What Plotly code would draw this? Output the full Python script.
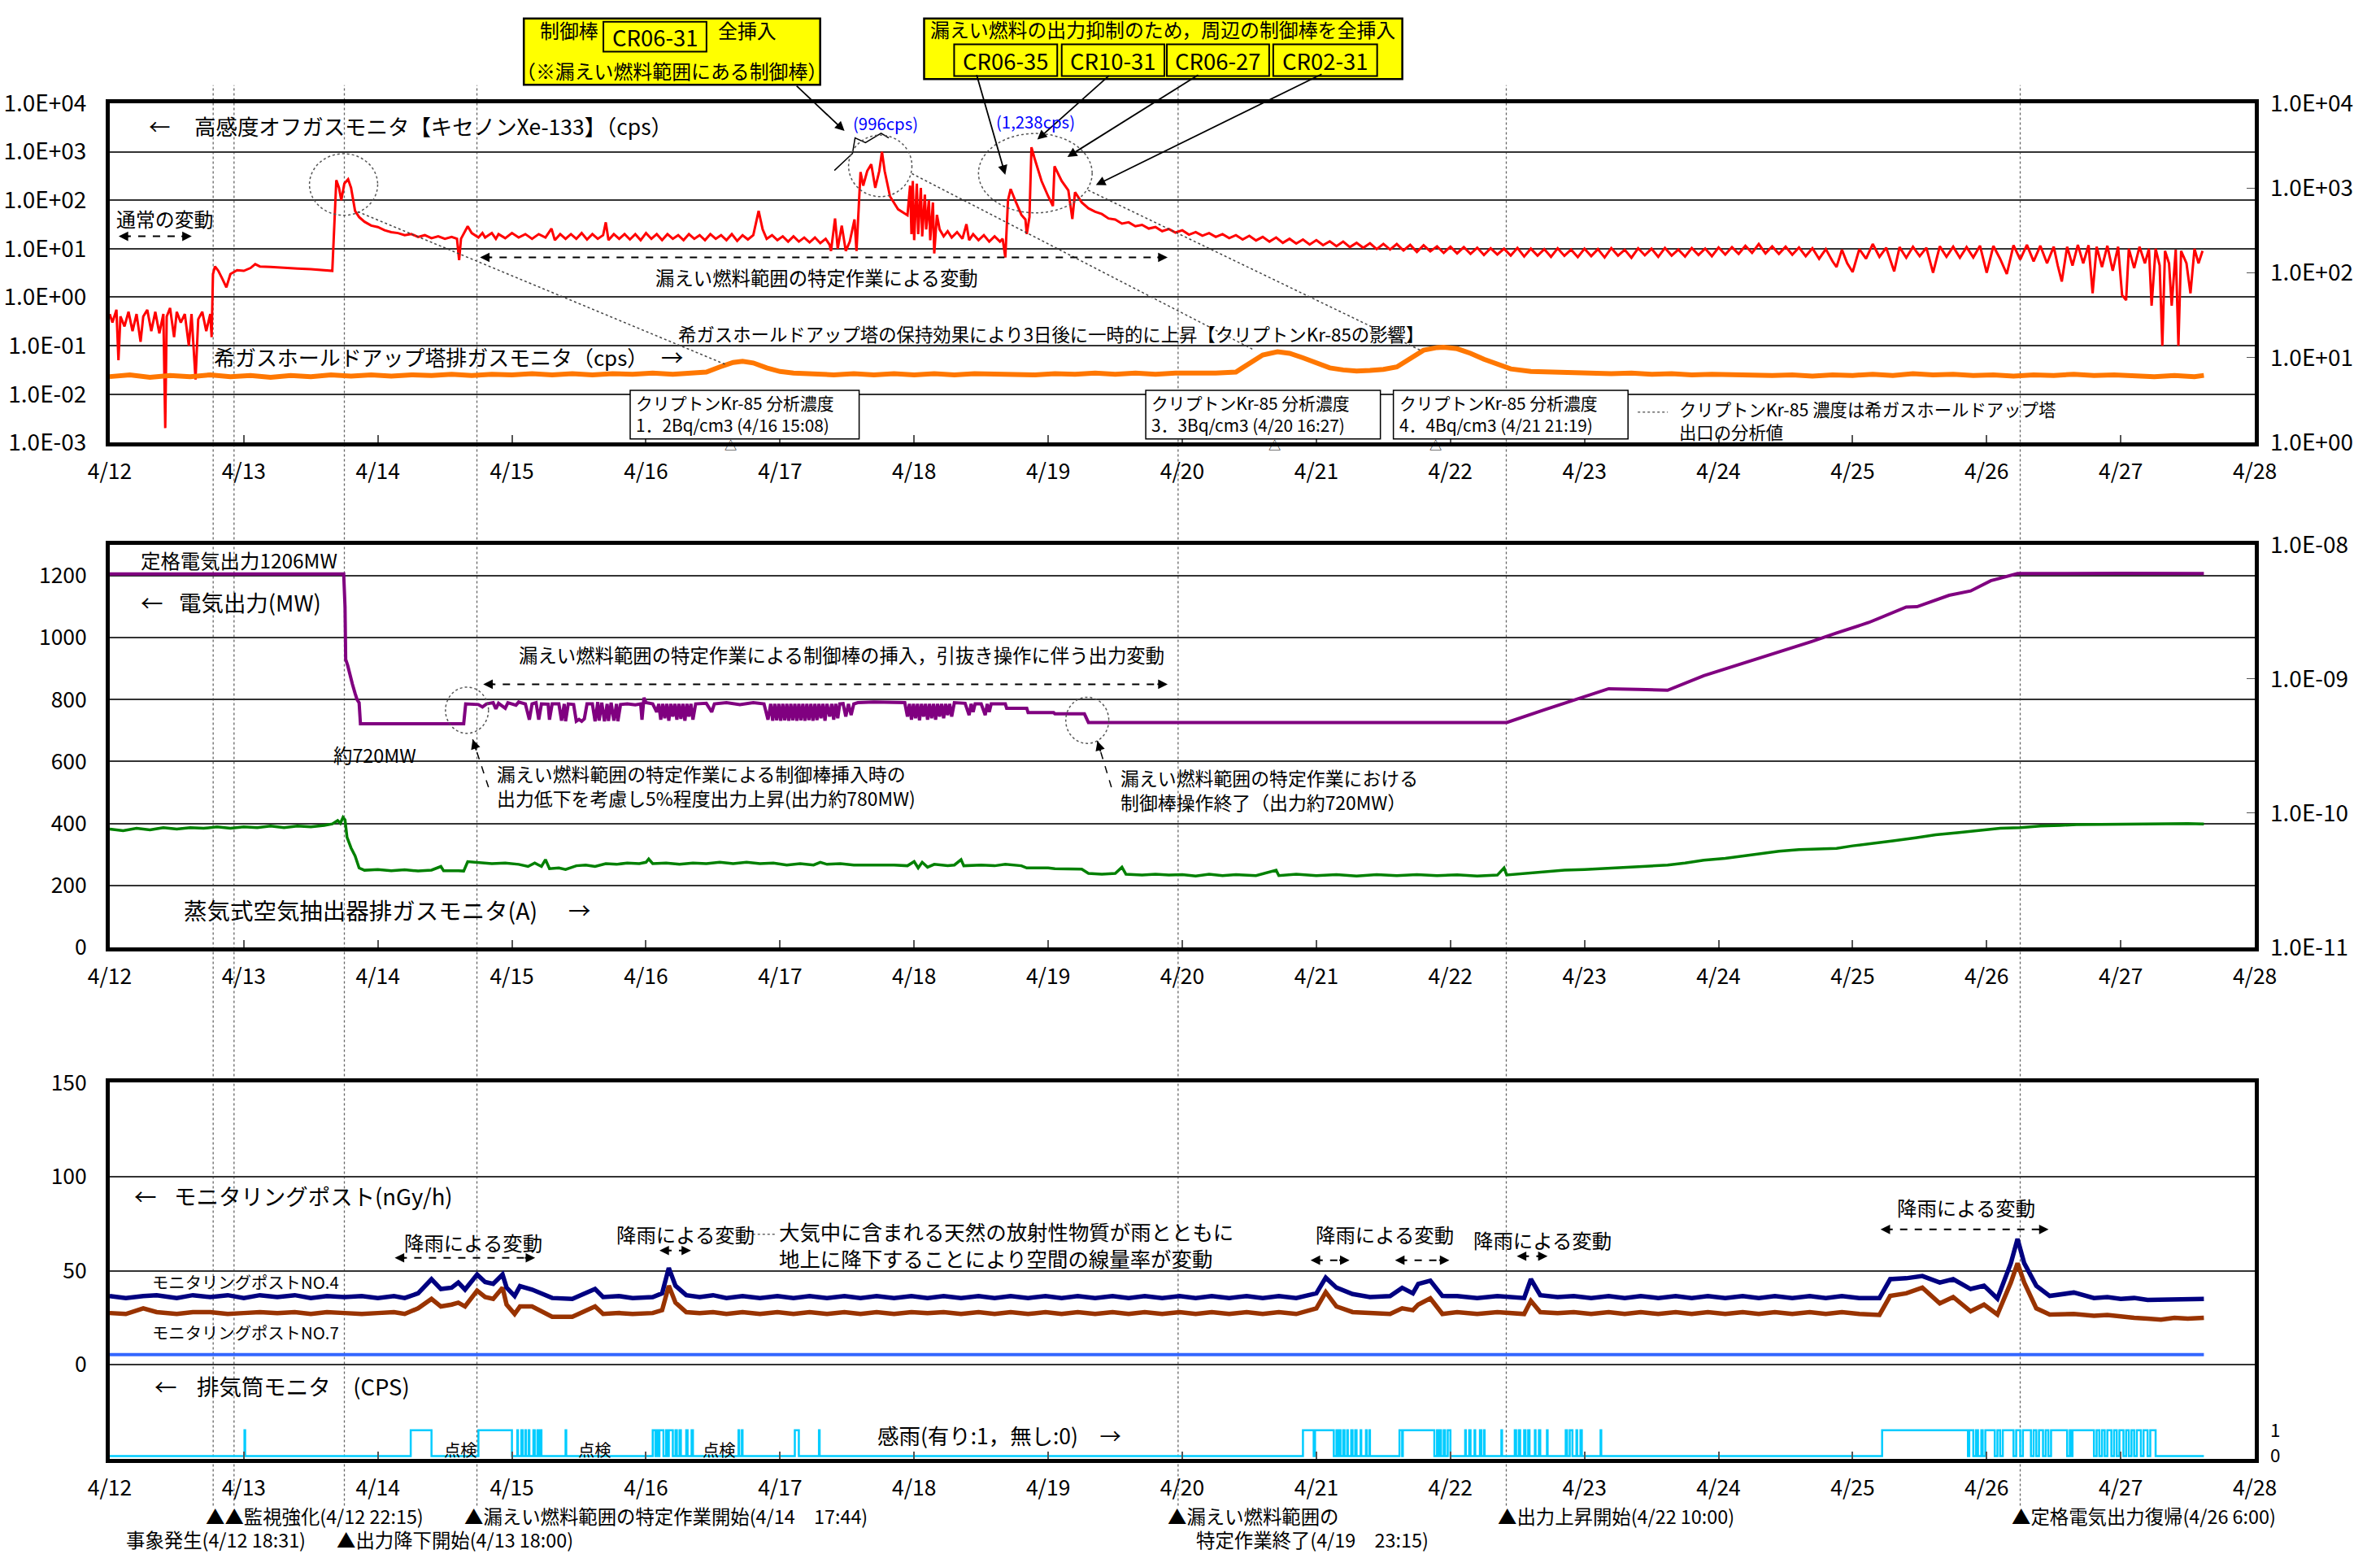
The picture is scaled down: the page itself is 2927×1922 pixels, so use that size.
import pandas as pd
import plotly.graph_objects as go

W, H = 2927, 1922
FONT = "Noto Sans CJK JP"
BASE = pd.Timestamp("2000-04-12 00:00")

# ---------------- data (time = days after 4/12 00:00) ----------------
day_labels = ["4/12", "4/13", "4/14", "4/15", "4/16", "4/17", "4/18", "4/19", "4/20",
              "4/21", "4/22", "4/23", "4/24", "4/25", "4/26", "4/27", "4/28"]

offgas_tick_vals = [1e-3, 1e-2, 1e-1, 1e0, 1e1, 1e2, 1e3, 1e4]
offgas_tick_text = ["1.0E-03", "1.0E-02", "1.0E-01", "1.0E+00", "1.0E+01", "1.0E+02", "1.0E+03", "1.0E+04"]
holdup_tick_vals = [1, 10, 100, 1000, 10000]
holdup_tick_text = ["1.0E+00", "1.0E+01", "1.0E+02", "1.0E+03", "1.0E+04"]
power_tick_vals = [0, 200, 400, 600, 800, 1000, 1200]
sjae_tick_vals = [1e-11, 1e-10, 1e-9, 1e-8]
sjae_tick_text = ["1.0E-11", "1.0E-10", "1.0E-09", "1.0E-08"]
mp_tick_vals = [0, 50, 100, 150]
rain_tick_vals = [0, 1]

# high-sensitivity off-gas monitor, Xe-133 (cps)
offgas = [
    (0.00, 0.45), (0.02, 0.30), (0.05, 0.55), (0.065, 0.05), (0.08, 0.40), (0.11, 0.25), (0.14, 0.50),
    (0.17, 0.20), (0.20, 0.45), (0.23, 0.12), (0.25, 0.40), (0.28, 0.55), (0.31, 0.20), (0.34, 0.50),
    (0.37, 0.18), (0.40, 0.45), (0.414, 0.002), (0.425, 0.40), (0.45, 0.60), (0.48, 0.15), (0.50, 0.50),
    (0.53, 0.30), (0.56, 0.45), (0.59, 0.10), (0.61, 0.45), (0.64, 0.02), (0.66, 0.35), (0.69, 0.50),
    (0.72, 0.20), (0.75, 0.45), (0.76, 0.15),
    (0.77, 3.0), (0.785, 4.3), (0.81, 3.5), (0.84, 2.4), (0.87, 1.6), (0.90, 3.0), (0.95, 3.6), (1.00, 3.5),
    (1.05, 4.0), (1.085, 4.8), (1.12, 4.3), (1.20, 4.2), (1.30, 4.0), (1.40, 3.9), (1.50, 3.8), (1.60, 3.6),
    (1.66, 3.5),
    (1.675, 30), (1.69, 260), (1.71, 180), (1.727, 100), (1.75, 220), (1.778, 270), (1.80, 180), (1.83, 60),
    (1.86, 45), (1.90, 36), (1.95, 30), (2.00, 28), (2.05, 24), (2.10, 22), (2.15, 21), (2.20, 19),
    (2.25, 20), (2.30, 17.5), (2.35, 19), (2.40, 16.5), (2.45, 18), (2.50, 16), (2.55, 17.5), (2.59, 16),
    (2.606, 5.8), (2.62, 16), (2.67, 29), (2.70, 21), (2.75, 17), (2.78, 21), (2.80, 17), (2.85, 21),
    (2.88, 16), (2.90, 20), (2.95, 16.5), (3.00, 21), (3.05, 17), (3.10, 20), (3.15, 16), (3.20, 20),
    (3.25, 17), (3.295, 26), (3.32, 15), (3.36, 20), (3.40, 16), (3.44, 20), (3.48, 16), (3.52, 21),
    (3.56, 15.5), (3.60, 20), (3.64, 16), (3.68, 19), (3.70, 35), (3.72, 15), (3.76, 20), (3.80, 16),
    (3.84, 20), (3.88, 15.5), (3.92, 20), (3.96, 15), (4.00, 21), (4.04, 16), (4.08, 20), (4.12, 15),
    (4.16, 20), (4.20, 16), (4.24, 19), (4.28, 15), (4.32, 20), (4.36, 16), (4.40, 19), (4.44, 15),
    (4.48, 20), (4.52, 16), (4.56, 19), (4.60, 15), (4.64, 20), (4.68, 14.5), (4.72, 19), (4.76, 15.5),
    (4.80, 19), (4.84, 60), (4.87, 25), (4.90, 16), (4.94, 19), (4.98, 15), (5.02, 18), (5.06, 14),
    (5.10, 18), (5.14, 14), (5.18, 17), (5.22, 13.5), (5.26, 17), (5.30, 13), (5.34, 16), (5.37, 12),
    (5.38, 9), (5.41, 42), (5.43, 10), (5.46, 30), (5.49, 9), (5.52, 14), (5.555, 40), (5.57, 9),
    (5.60, 380), (5.62, 200), (5.65, 400), (5.68, 550), (5.71, 180), (5.74, 400), (5.76, 996), (5.78, 400),
    (5.82, 120), (5.88, 65), (5.95, 49), (5.97, 200), (5.98, 20), (5.99, 250), (6.00, 15), (6.02, 220),
    (6.03, 20), (6.05, 180), (6.06, 18), (6.08, 130), (6.09, 25), (6.11, 100), (6.12, 15), (6.14, 90),
    (6.15, 8), (6.17, 50), (6.19, 25), (6.22, 18), (6.25, 23), (6.28, 17), (6.32, 22), (6.36, 16),
    (6.39, 32), (6.41, 15), (6.44, 20), (6.48, 15), (6.52, 19), (6.56, 14), (6.60, 18), (6.64, 14),
    (6.66, 16), (6.68, 6.6), (6.70, 100), (6.72, 170), (6.76, 90), (6.80, 50), (6.83, 40), (6.84, 20),
    (6.86, 45), (6.875, 1238), (6.90, 700), (6.95, 250), (7.00, 120), (7.035, 76), (7.047, 500),
    (7.10, 250), (7.15, 160), (7.18, 41), (7.20, 146), (7.25, 90),
    (7.30, 68), (7.35, 58), (7.40, 52), (7.45, 42), (7.50, 40), (7.55, 33), (7.60, 35), (7.65, 29),
    (7.70, 31), (7.75, 26), (7.80, 28), (7.85, 23), (7.90, 25.5), (7.95, 21.5), (8.00, 24), (8.05, 19.5),
    (8.10, 22), (8.15, 18.5), (8.20, 21), (8.25, 17.5), (8.30, 20), (8.35, 16.5), (8.40, 19), (8.45, 15.5),
    (8.50, 18.5), (8.55, 14.8), (8.60, 17.5), (8.65, 14), (8.70, 17), (8.75, 13.2), (8.80, 16),
    (8.85, 12.8), (8.90, 15.5), (8.95, 12.2), (9.00, 15), (9.05, 11.8), (9.10, 14.2), (9.15, 11.3),
    (9.20, 14), (9.25, 10.8), (9.30, 13.2), (9.35, 10.4), (9.40, 13), (9.45, 9.8), (9.50, 12.6),
    (9.55, 9.6), (9.60, 12.5), (9.65, 9.2), (9.70, 12), (9.75, 8.6), (9.80, 11.8), (9.85, 8.8),
    (9.90, 11.2), (9.95, 8.2), (10.00, 11), (10.05, 8), (10.10, 10.8), (10.15, 7.8), (10.20, 10.5),
    (10.25, 7.4), (10.30, 10.2), (10.35, 7.6), (10.40, 10), (10.45, 7.2), (10.50, 10.4), (10.55, 6.9),
    (10.60, 10), (10.65, 7.2), (10.70, 9.8), (10.75, 6.8), (10.80, 10.2), (10.85, 7.1), (10.90, 9.6),
    (10.95, 6.7), (11.00, 10), (11.05, 7), (11.10, 9.8), (11.15, 6.6), (11.20, 10.3), (11.25, 7.2),
    (11.30, 9.5), (11.35, 6.5), (11.40, 10.2), (11.45, 7.3), (11.50, 10), (11.55, 6.8), (11.60, 10.4),
    (11.65, 7.2), (11.70, 9.6), (11.75, 6.9), (11.80, 10.3), (11.85, 7.4), (11.90, 10.1), (11.95, 7),
    (12.00, 10.6), (12.05, 7.6), (12.10, 10.8), (12.15, 7.8), (12.20, 11.5), (12.25, 8.2), (12.30, 12.5),
    (12.35, 8), (12.40, 11.2), (12.45, 7.8), (12.50, 11), (12.55, 7.5), (12.60, 10.6), (12.65, 7),
    (12.70, 10.2), (12.75, 6.2), (12.80, 9.8), (12.85, 5.5), (12.88, 4.2), (12.92, 9.5), (12.96, 5),
    (13.00, 3.3), (13.05, 9.8), (13.10, 6.2), (13.15, 12.5), (13.20, 6.8), (13.25, 10.5), (13.31, 3.4),
    (13.35, 10.8), (13.40, 6.5), (13.45, 11), (13.50, 7), (13.55, 10.5), (13.60, 3.2), (13.65, 11.2),
    (13.70, 6.8), (13.75, 11), (13.80, 6.5), (13.85, 10.8), (13.90, 6.6), (13.95, 11.5), (14.00, 3.2),
    (14.05, 11.4), (14.10, 6.2), (14.15, 3.0), (14.20, 11.8), (14.25, 6), (14.30, 12), (14.35, 5.5),
    (14.40, 11.5), (14.45, 5), (14.50, 11), (14.53, 4.5), (14.56, 2.1), (14.60, 11), (14.64, 4.5),
    (14.68, 12), (14.72, 5), (14.76, 11.8), (14.79, 1.2), (14.82, 11), (14.86, 4.2), (14.90, 11.5),
    (14.94, 3.5), (14.98, 11), (15.01, 1.1), (15.04, 0.87), (15.06, 10), (15.10, 4), (15.14, 11),
    (15.18, 5), (15.21, 10), (15.23, 0.67), (15.26, 10), (15.29, 4.5), (15.31, 0.1), (15.33, 9),
    (15.36, 5), (15.38, 0.67), (15.41, 9.5), (15.43, 0.1), (15.45, 9), (15.49, 5), (15.52, 1.2),
    (15.55, 10), (15.58, 5), (15.61, 9),
]

# noble-gas hold-up tower exhaust monitor (cps, right axis)
holdup = [
    (0.0, 6.0), (0.15, 6.3), (0.3, 5.9), (0.45, 6.2), (0.6, 6.0), (0.75, 6.3), (0.9, 6.0), (1.05, 6.2),
    (1.2, 5.9), (1.35, 6.2), (1.5, 6.0), (1.65, 6.3), (1.8, 6.1), (1.95, 6.3), (2.1, 6.1), (2.25, 6.3),
    (2.4, 6.2), (2.55, 6.4), (2.7, 6.2), (2.85, 6.4), (3.0, 6.3), (3.15, 6.5), (3.3, 6.3), (3.45, 6.5),
    (3.6, 6.3), (3.75, 6.5), (3.9, 6.4), (4.05, 6.6), (4.2, 6.4), (4.35, 6.6), (4.45, 6.8), (4.55, 7.8),
    (4.65, 8.8), (4.72, 9.1), (4.80, 8.7), (4.90, 7.6), (5.00, 6.9), (5.10, 6.6), (5.25, 6.5), (5.4, 6.3),
    (5.55, 6.5), (5.7, 6.3), (5.85, 6.5), (6.0, 6.3), (6.15, 6.5), (6.3, 6.3), (6.45, 6.5), (6.6, 6.4),
    (6.75, 6.5), (6.9, 6.3), (7.05, 6.5), (7.2, 6.4), (7.35, 6.6), (7.5, 6.4), (7.65, 6.6), (7.8, 6.4),
    (7.95, 6.6), (8.1, 6.5), (8.25, 6.6), (8.40, 6.8), (8.50, 8.5), (8.60, 10.8), (8.71, 11.8),
    (8.80, 11.3), (8.90, 10.0), (9.00, 8.6), (9.10, 7.6), (9.20, 7.2), (9.30, 7.0), (9.40, 7.1),
    (9.50, 7.3), (9.60, 7.8), (9.70, 9.8), (9.80, 12.3), (9.90, 13.2), (9.95, 13.3), (10.05, 12.8),
    (10.15, 11.3), (10.25, 9.6), (10.35, 8.3), (10.45, 7.4), (10.60, 6.9), (10.75, 6.8), (10.9, 6.6),
    (11.05, 6.7), (11.2, 6.5), (11.35, 6.6), (11.5, 6.4), (11.65, 6.5), (11.8, 6.3), (11.95, 6.4),
    (12.1, 6.3), (12.25, 6.4), (12.4, 6.2), (12.55, 6.3), (12.7, 6.1), (12.85, 6.3), (13.0, 6.2),
    (13.15, 6.4), (13.3, 6.2), (13.45, 6.5), (13.6, 6.3), (13.75, 6.4), (13.9, 6.2), (14.05, 6.3),
    (14.2, 6.1), (14.35, 6.3), (14.5, 6.2), (14.65, 6.4), (14.8, 6.2), (14.95, 6.3), (15.1, 6.1),
    (15.25, 6.0), (15.4, 6.2), (15.55, 6.0), (15.62, 6.2),
]

# Kr-85 analysis at the hold-up tower outlet
kr_times = ["2000-04-16 15:08", "2000-04-20 16:27", "2000-04-21 21:19"]
kr_conc = [1.2, 3.3, 4.4]

# electrical output (MW)
power = [
    (0.00, 1206), (1.745, 1206), (1.755, 1100), (1.76, 930), (1.775, 910), (1.79, 880), (1.81, 850),
    (1.83, 820), (1.845, 800), (1.86, 790), (1.87, 722), (2.00, 722), (2.30, 721), (2.64, 722),
    (2.655, 786), (2.75, 784), (2.78, 776), (2.81, 786), (2.86, 790), (2.88, 770), (2.90, 788),
    (2.95, 772), (2.97, 790), (3.03, 782), (3.05, 792), (3.10, 786), (3.13, 735), (3.15, 786),
    (3.18, 790), (3.20, 735), (3.22, 786), (3.27, 785), (3.28, 735), (3.30, 786), (3.35, 786),
    (3.37, 732), (3.39, 786), (3.40, 730), (3.42, 786), (3.46, 784), (3.48, 730), (3.50, 736),
    (3.52, 730), (3.54, 738), (3.56, 786), (3.60, 786), (3.62, 730), (3.64, 792), (3.65, 732),
    (3.67, 790), (3.69, 730), (3.71, 786), (3.72, 731), (3.74, 790), (3.76, 732), (3.78, 786),
    (3.79, 730), (3.81, 784), (3.86, 786), (3.92, 783), (3.96, 786), (3.97, 735), (3.985, 806),
    (4.00, 790), (4.05, 786), (4.08, 760), (4.095, 786), (4.11, 735), (4.125, 786), (4.14, 740),
    (4.155, 786), (4.17, 732), (4.185, 786), (4.20, 745), (4.215, 786), (4.23, 735), (4.245, 786),
    (4.26, 738), (4.275, 786), (4.29, 732), (4.305, 786), (4.32, 745), (4.335, 786), (4.35, 735),
    (4.37, 786), (4.45, 788), (4.49, 760), (4.51, 786), (4.60, 790), (4.70, 784), (4.80, 790),
    (4.88, 786), (4.91, 735), (4.93, 786), (4.945, 732), (4.96, 786), (4.975, 733), (4.99, 786),
    (5.005, 732), (5.02, 786), (5.035, 733), (5.05, 786), (5.065, 732), (5.08, 786), (5.095, 733),
    (5.11, 786), (5.125, 732), (5.14, 786), (5.155, 733), (5.17, 786), (5.185, 732), (5.20, 786),
    (5.215, 734), (5.23, 786), (5.245, 732), (5.26, 786), (5.275, 734), (5.29, 786), (5.305, 740),
    (5.32, 786), (5.335, 732), (5.35, 786), (5.37, 745), (5.385, 786), (5.40, 735), (5.415, 786),
    (5.43, 740), (5.445, 786), (5.47, 787), (5.49, 745), (5.51, 786), (5.53, 750), (5.55, 786),
    (5.58, 790), (5.70, 792), (5.80, 790), (5.93, 790), (5.95, 745), (5.965, 786), (5.98, 735),
    (5.995, 786), (6.01, 740), (6.025, 786), (6.04, 733), (6.055, 786), (6.07, 745), (6.085, 786),
    (6.10, 735), (6.115, 786), (6.13, 740), (6.145, 786), (6.16, 735), (6.175, 786), (6.19, 745),
    (6.205, 786), (6.22, 740), (6.235, 786), (6.25, 750), (6.265, 786), (6.28, 745), (6.30, 790),
    (6.38, 788), (6.41, 750), (6.425, 786), (6.44, 760), (6.455, 786), (6.50, 786), (6.53, 750),
    (6.545, 786), (6.56, 760), (6.575, 786), (6.68, 786), (6.69, 772), (6.84, 772), (6.85, 758),
    (7.04, 758), (7.05, 754), (7.27, 754), (7.30, 726), (8.00, 726), (9.00, 725), (10.00, 726),
    (10.42, 726), (10.70, 767), (11.18, 835), (11.40, 833), (11.62, 830), (11.89, 877), (12.29, 931),
    (12.69, 987), (12.88, 1015), (13.12, 1049), (13.40, 1099), (13.48, 1100), (13.72, 1137),
    (13.88, 1151), (14.03, 1184), (14.23, 1207), (15.00, 1208), (15.62, 1207),
]

# steam jet air ejector exhaust gas monitor (A, right axis)
sjae = [
    (0.00, 7.6e-11), (0.10, 7.4e-11), (0.20, 7.7e-11), (0.30, 7.5e-11), (0.40, 7.8e-11), (0.50, 7.6e-11),
    (0.60, 7.8e-11), (0.70, 7.7e-11), (0.80, 7.9e-11), (0.90, 7.7e-11), (1.00, 7.9e-11), (1.10, 7.8e-11),
    (1.20, 8.0e-11), (1.30, 7.8e-11), (1.40, 8.0e-11), (1.50, 7.9e-11), (1.60, 8.1e-11), (1.66, 8.3e-11),
    (1.70, 8.8e-11), (1.72, 8.4e-11), (1.74, 9.3e-11), (1.755, 8.9e-11), (1.77, 6.6e-11), (1.80, 5.5e-11),
    (1.83, 4.8e-11), (1.86, 3.9e-11), (1.90, 3.75e-11), (2.00, 3.8e-11), (2.10, 3.72e-11), (2.20, 3.78e-11),
    (2.30, 3.7e-11), (2.40, 3.76e-11), (2.47, 4.0e-11), (2.49, 3.72e-11), (2.60, 3.72e-11), (2.64, 3.7e-11),
    (2.67, 4.35e-11), (2.75, 4.3e-11), (2.85, 4.2e-11), (2.95, 4.25e-11), (3.05, 4.15e-11), (3.12, 4.0e-11),
    (3.17, 4.25e-11), (3.22, 4.0e-11), (3.25, 4.5e-11), (3.28, 3.85e-11), (3.35, 3.9e-11), (3.40, 3.8e-11),
    (3.48, 4.05e-11), (3.55, 4.1e-11), (3.62, 4.0e-11), (3.70, 4.2e-11), (3.78, 4.15e-11), (3.86, 4.25e-11),
    (3.95, 4.2e-11), (4.00, 4.3e-11), (4.02, 4.55e-11), (4.05, 4.2e-11), (4.15, 4.25e-11), (4.25, 4.15e-11),
    (4.35, 4.25e-11), (4.45, 4.2e-11), (4.55, 4.3e-11), (4.65, 4.2e-11), (4.75, 4.3e-11), (4.85, 4.2e-11),
    (4.95, 4.25e-11), (5.05, 4.1e-11), (5.15, 4.2e-11), (5.25, 4.1e-11), (5.30, 4.3e-11), (5.35, 4.15e-11),
    (5.45, 4.2e-11), (5.55, 4.1e-11), (5.65, 4.1e-11), (5.75, 4.12e-11), (5.85, 4.1e-11), (5.95, 4.05e-11),
    (6.00, 4.35e-11), (6.03, 3.9e-11), (6.06, 4.3e-11), (6.10, 3.95e-11), (6.15, 4.15e-11), (6.25, 4.05e-11),
    (6.30, 4.1e-11), (6.35, 4.5e-11), (6.37, 4.05e-11), (6.50, 4.1e-11), (6.60, 4.05e-11), (6.68, 4.15e-11),
    (6.80, 4.05e-11), (6.84, 3.9e-11), (7.00, 3.9e-11), (7.05, 3.85e-11), (7.25, 3.82e-11), (7.30, 3.55e-11),
    (7.40, 3.5e-11), (7.50, 3.55e-11), (7.55, 3.95e-11), (7.58, 3.5e-11), (7.70, 3.45e-11), (7.80, 3.5e-11),
    (7.90, 3.45e-11), (8.00, 3.48e-11), (8.10, 3.4e-11), (8.20, 3.5e-11), (8.30, 3.42e-11), (8.40, 3.48e-11),
    (8.55, 3.42e-11), (8.70, 3.75e-11), (8.72, 3.42e-11), (8.85, 3.5e-11), (9.00, 3.42e-11), (9.15, 3.48e-11),
    (9.30, 3.4e-11), (9.45, 3.48e-11), (9.60, 3.42e-11), (9.75, 3.48e-11), (9.90, 3.42e-11), (10.05, 3.47e-11),
    (10.20, 3.4e-11), (10.35, 3.45e-11), (10.40, 3.9e-11), (10.42, 3.46e-11), (10.55, 3.55e-11),
    (10.70, 3.68e-11), (10.85, 3.75e-11), (11.00, 3.8e-11), (11.18, 3.88e-11), (11.35, 3.95e-11),
    (11.50, 4.0e-11), (11.62, 4.1e-11), (11.75, 4.25e-11), (11.89, 4.45e-11), (12.05, 4.6e-11),
    (12.29, 4.95e-11), (12.45, 5.2e-11), (12.60, 5.35e-11), (12.75, 5.4e-11), (12.88, 5.45e-11),
    (13.00, 5.7e-11), (13.16, 5.95e-11), (13.30, 6.2e-11), (13.47, 6.55e-11), (13.62, 6.9e-11),
    (13.78, 7.15e-11), (13.95, 7.4e-11), (14.10, 7.7e-11), (14.25, 7.8e-11), (14.40, 8.0e-11),
    (14.55, 8.1e-11), (14.67, 8.2e-11), (14.85, 8.25e-11), (15.07, 8.3e-11), (15.30, 8.3e-11),
    (15.50, 8.35e-11), (15.62, 8.3e-11),
]

# monitoring posts NO.4 / NO.7 (nGy/h)
mposts = [
    (0.00, 36.5, 27.5), (0.12, 35.5, 27), (0.25, 36.5, 30), (0.35, 37, 28), (0.5, 35.5, 27), (0.62, 37, 28),
    (0.75, 36, 28), (0.88, 37, 27), (1.0, 35.5, 27.5), (1.12, 37, 28), (1.25, 36, 27.5), (1.38, 37, 28),
    (1.5, 35.5, 27), (1.62, 36.5, 28), (1.75, 36, 27.5), (1.88, 36.5, 27), (2.0, 35.5, 27.5), (2.12, 36.5, 28),
    (2.2, 35.5, 27),
    (2.30, 38, 30), (2.40, 45.5, 35), (2.47, 40.3, 31), (2.55, 41, 32), (2.60, 43.7, 33), (2.65, 40, 31),
    (2.74, 48, 39.4), (2.80, 44, 36), (2.86, 43, 35), (2.93, 48, 41), (2.96, 41, 32), (3.02, 36.6, 27),
    (3.06, 41.8, 31), (3.15, 40, 31), (3.23, 37.6, 28), (3.30, 35.5, 25.5), (3.45, 35, 25.5),
    (3.62, 40.3, 31), (3.68, 36, 27), (3.8, 36.5, 27.5), (3.9, 35.5, 27), (4.05, 36, 27.5), (4.12, 38, 29),
    (4.17, 51.5, 42), (4.22, 42, 33), (4.30, 37, 28), (4.40, 36, 27.5), (4.5, 37, 28), (4.6, 35.5, 27),
    (4.72, 36.5, 28), (4.85, 35.5, 27), (4.98, 36.5, 28), (5.1, 35.5, 27), (5.22, 36.5, 28), (5.35, 35.5, 27),
    (5.48, 36.5, 28), (5.6, 35.5, 27), (5.72, 36.5, 28), (5.85, 35.5, 27), (5.98, 36.5, 28), (6.1, 35.5, 27.5),
    (6.22, 36.5, 28), (6.35, 35.5, 27), (6.48, 36.5, 28), (6.6, 35.5, 27), (6.72, 36.5, 28), (6.85, 35.5, 27),
    (6.98, 36.5, 28), (7.1, 35.5, 27), (7.22, 36.5, 28), (7.35, 35.5, 27), (7.48, 36.5, 28), (7.6, 35.5, 27),
    (7.72, 36.5, 28), (7.85, 35.5, 27), (7.98, 36.5, 28), (8.1, 35.5, 27), (8.22, 36.5, 28), (8.35, 35.5, 27),
    (8.48, 36.5, 28), (8.6, 35.5, 27), (8.72, 36.5, 28), (8.85, 35.5, 27),
    (9.00, 38, 30), (9.07, 46.3, 38.6), (9.15, 41, 31), (9.27, 37.6, 28), (9.4, 36, 27.5), (9.55, 36.5, 27),
    (9.64, 40.9, 30), (9.72, 38, 29), (9.76, 43, 32), (9.85, 44.7, 35.3), (9.94, 36.6, 27), (10.05, 36.5, 28),
    (10.2, 35.5, 27), (10.35, 36.5, 28), (10.55, 35.5, 27), (10.60, 45.5, 34), (10.67, 37, 28),
    (10.8, 36, 27.5), (10.92, 36.5, 28), (11.05, 35.5, 27), (11.18, 36.5, 28), (11.3, 35.5, 27),
    (11.42, 36.5, 28), (11.55, 35.5, 27), (11.68, 36.5, 28), (11.8, 35.5, 27), (11.92, 36.5, 28),
    (12.05, 35.5, 27), (12.18, 36.5, 28), (12.3, 35.5, 27), (12.42, 36.5, 28), (12.55, 35.5, 27),
    (12.68, 36.5, 28), (12.8, 35.5, 27), (12.92, 36.5, 28), (13.05, 35.5, 27), (13.2, 35.5, 26.5),
    (13.28, 45.5, 36.6), (13.40, 46, 38), (13.52, 47.2, 41), (13.65, 43.7, 32.6), (13.75, 45.5, 36),
    (13.88, 40.3, 28.4), (13.98, 42, 32), (14.08, 35.2, 26.7), (14.18, 54, 43.7), (14.23, 66.9, 54),
    (14.28, 54, 43.7), (14.37, 42, 30), (14.47, 36.6, 26.7), (14.65, 38.4, 27), (14.8, 35.5, 26),
    (14.9, 36, 26.5), (15.0, 35, 25.5), (15.1, 35.5, 25), (15.2, 34.5, 24.5), (15.3, 34.5, 24),
    (15.4, 35, 25), (15.5, 34.5, 24.5), (15.62, 35, 25),
]

# stack monitor (CPS)
stack = [(0.0, 5.4), (4.0, 5.5), (8.0, 5.4), (12.0, 5.5), (15.62, 5.4)]

# rain sensor "on" intervals (1 = rain)
rain_on = [
    (1.005, 1.01), (2.245, 2.40), (2.75, 3.00), (3.04, 3.045), (3.07, 3.08), (3.10, 3.105), (3.125, 3.13),
    (3.16, 3.17), (3.19, 3.20), (3.215, 3.22), (3.40, 3.405), (4.05, 4.07), (4.08, 4.085), (4.10, 4.13),
    (4.15, 4.155), (4.17, 4.20), (4.22, 4.23), (4.25, 4.26), (4.30, 4.31), (4.34, 4.35), (4.69, 4.695),
    (4.715, 4.72), (5.11, 5.14), (5.29, 5.295), (8.90, 8.98), (8.99, 9.13), (9.15, 9.155), (9.17, 9.18),
    (9.20, 9.21), (9.23, 9.235), (9.26, 9.27), (9.29, 9.30), (9.33, 9.335), (9.37, 9.375), (9.395, 9.40),
    (9.62, 9.64), (9.645, 9.88), (9.90, 9.905), (9.92, 9.93), (9.95, 9.96), (9.98, 10.0), (10.11, 10.115),
    (10.14, 10.15), (10.18, 10.185), (10.22, 10.23), (10.25, 10.255), (10.38, 10.385), (10.48, 10.49),
    (10.51, 10.52), (10.55, 10.56), (10.58, 10.59), (10.63, 10.635), (10.66, 10.67), (10.72, 10.725),
    (10.86, 10.87), (10.89, 10.91), (10.94, 10.945), (10.97, 10.98), (11.12, 11.125), (13.22, 13.86),
    (13.87, 13.90), (13.92, 13.935), (13.96, 13.97), (13.99, 14.06), (14.08, 14.10), (14.12, 14.20),
    (14.22, 14.25), (14.27, 14.33), (14.35, 14.37), (14.39, 14.42), (14.44, 14.46), (14.48, 14.60),
    (14.62, 14.63), (14.64, 14.80), (14.82, 14.84), (14.86, 14.88), (14.90, 14.93), (14.95, 14.97),
    (14.99, 15.02), (15.04, 15.06), (15.08, 15.10), (15.12, 15.15), (15.17, 15.20), (15.22, 15.26),
]
rain_end = 15.62

# event times (vertical dotted lines)
event_times = ["2000-04-12 18:31", "2000-04-12 22:15", "2000-04-13 18:00", "2000-04-14 17:44",
               "2000-04-19 23:15", "2000-04-22 10:00", "2000-04-26 06:00"]

# ---------------- helpers ----------------
# the page is photographed slightly reduced about its centre; layout positions are pre-compensated
S = 0.983
FS = 1 / S


def fx(x):
    return W / 2 + (x - W / 2) / S


def fy(y):
    return H / 2 + (y - H / 2) / S


def T(days):
    return [BASE + pd.Timedelta(days=float(d)) for d in days]


def col(rows, i):
    return [r[i] for r in rows]


def P(x, y):
    return fx(x) / W, 1 - fy(y) / H


ann, shapes = [], []


def label(s, x, y, size=22, anchor="left", color="black", align="left"):
    px, py = P(x, y)
    ann.append(dict(text=s, x=px, y=py, xref="paper", yref="paper", xanchor=anchor, yanchor="middle",
                    align=align, showarrow=False, font=dict(family=FONT, size=size * FS, color=color)))


def arrow(x0, y0, x1, y1, width=1.8, size=1.3):
    px, py = P(x1, y1)
    ann.append(dict(text="", x=px, y=py, xref="paper", yref="paper", ax=(x0 - x1) / S, ay=(y0 - y1) / S,
                    axref="pixel", ayref="pixel", showarrow=True, arrowhead=2, arrowsize=size,
                    arrowwidth=width, arrowcolor="black", standoff=0))


def line(x0, y0, x1, y1, dash="dot", width=1.5, color="#444"):
    a, b = P(x0, y0)
    c, d = P(x1, y1)
    shapes.append(dict(type="line", xref="paper", yref="paper", x0=a, y0=b, x1=c, y1=d,
                       line=dict(color=color, width=width, dash=dash)))


def darrow(x0, x1, y):
    line(x0 + 6, y, x1 - 6, y, dash="dash", width=2, color="black")
    arrow(x0 + 14, y, x0, y)
    arrow(x1 - 14, y, x1, y)


def dasharrow(x0, y0, x1, y1):
    line(x0, y0, x1, y1, dash="dash", width=1.5, color="black")
    dx, dy = x1 - x0, y1 - y0
    arrow(x1 - dx * 0.25, y1 - dy * 0.25, x1, y1)


def rect(x0, y0, x1, y1, fill="rgba(0,0,0,0)", width=2):
    a, b = P(x0, y1)
    c, d = P(x1, y0)
    shapes.append(dict(type="rect", xref="paper", yref="paper", x0=a, y0=b, x1=c, y1=d,
                       fillcolor=fill, line=dict(color="black", width=width)))


def ellipse(cx, cy, rx, ry):
    a, b = P(cx - rx, cy + ry)
    c, d = P(cx + rx, cy - ry)
    shapes.append(dict(type="circle", xref="paper", yref="paper", x0=a, y0=b, x1=c, y1=d,
                       line=dict(color="#555", width=1.5, dash="dot")))


# ---------------- traces ----------------
fig = go.Figure()
fig.add_trace(go.Scatter(x=T(col(offgas, 0)), y=col(offgas, 1), xaxis="x", yaxis="y", mode="lines",
                         line=dict(color="#FF0000", width=3)))
fig.add_trace(go.Scatter(x=T(col(holdup, 0)), y=col(holdup, 1), xaxis="x", yaxis="y4", mode="lines",
                         line=dict(color="#FF7700", width=6)))
fig.add_trace(go.Scatter(x=T(col(power, 0)), y=col(power, 1), xaxis="x2", yaxis="y2", mode="lines",
                         line=dict(color="#800080", width=4)))
fig.add_trace(go.Scatter(x=T(col(sjae, 0)), y=col(sjae, 1), xaxis="x2", yaxis="y5", mode="lines",
                         line=dict(color="#008000", width=3.5)))

rain_x, rain_y = [0.0], [0]
for a, b in rain_on:
    rain_x += [a, a, b, b]
    rain_y += [0, 1, 1, 0]
rain_x.append(rain_end)
rain_y.append(0)
fig.add_trace(go.Scatter(x=T(rain_x), y=rain_y, xaxis="x3", yaxis="y6", mode="lines",
                         line=dict(color="#00CCFF", width=2.5)))
fig.add_trace(go.Scatter(x=T(col(stack, 0)), y=col(stack, 1), xaxis="x3", yaxis="y3", mode="lines",
                         line=dict(color="#3366FF", width=4)))
fig.add_trace(go.Scatter(x=T(col(mposts, 0)), y=col(mposts, 2), xaxis="x3", yaxis="y3", mode="lines",
                         line=dict(color="#993300", width=5.5)))
fig.add_trace(go.Scatter(x=T(col(mposts, 0)), y=col(mposts, 1), xaxis="x3", yaxis="y3", mode="lines",
                         line=dict(color="#000080", width=5.5)))

# ---------------- axes ----------------
XTICKFONT = dict(family=FONT, size=26 * FS, color="black")
LOGTICKFONT = dict(family=FONT, size=27.5 * FS, color="black")
LINTICKFONT = dict(family=FONT, size=26 * FS, color="black")
RAINTICKFONT = dict(family=FONT, size=22 * FS, color="black")
xdom = [fx(133) / W, fx(2775) / W]
day_vals = T(range(17))


def xaxis(anchor):
    return dict(domain=xdom, anchor=anchor, type="date", range=[day_vals[0], day_vals[-1]],
                tickmode="array", tickvals=day_vals, ticktext=day_labels, ticks="inside", ticklen=9,
                tickwidth=1.5, tickcolor="#555", showline=True, linewidth=5, linecolor="black",
                mirror=True, showgrid=False, zeroline=False, tickfont=XTICKFONT, ticklabelstandoff=8)


def ydom(top, bottom):
    return [1 - fy(bottom) / H, 1 - fy(top) / H]


left_common = dict(showline=True, linewidth=5, linecolor="black", mirror=True, showgrid=True,
                   gridcolor="#333", gridwidth=1.5, zeroline=False, ticks="",
                   ticklabelstandoff=18, tickmode="array")
right_common = dict(side="right", showgrid=False, zeroline=False, showline=False, ticks="inside",
                    ticklen=10, tickcolor="#555", ticklabelstandoff=18, tickmode="array")

fig.update_layout(
    xaxis=xaxis("y"), xaxis2=xaxis("y2"), xaxis3=xaxis("y3"),
    yaxis=dict(domain=ydom(121.7, 540.7), anchor="x", type="log", range=[-3, 4], tickfont=LOGTICKFONT,
               tickvals=offgas_tick_vals, ticktext=offgas_tick_text, **left_common),
    yaxis4=dict(overlaying="y", anchor="x", type="log", range=[0, 4], tickfont=LOGTICKFONT,
                tickvals=holdup_tick_vals, ticktext=holdup_tick_text, **right_common),
    yaxis2=dict(domain=ydom(666.8, 1163.6), anchor="x2", range=[0, 1300], tickfont=LINTICKFONT,
                tickvals=power_tick_vals, **left_common),
    yaxis5=dict(overlaying="y2", anchor="x2", type="log", range=[-11, -8], tickfont=LOGTICKFONT,
                tickvals=sjae_tick_vals, ticktext=sjae_tick_text, **right_common),
    yaxis3=dict(domain=ydom(1330.9, 1795), anchor="x3", range=[-50, 150], tickfont=LINTICKFONT,
                tickvals=mp_tick_vals, **left_common),
    yaxis6=dict(overlaying="y3", anchor="x3", range=[-0.1, 14.4], tickfont=RAINTICKFONT,
                tickvals=rain_tick_vals, **{**right_common, "ticks": ""}),
)

# ---------------- vertical event lines ----------------
for t in event_times:
    shapes.append(dict(type="line", xref="x", yref="paper", x0=t, x1=t, y0=1 - fy(1853) / H,
                       y1=1 - fy(99.5) / H, layer="below", line=dict(color="#666", width=1.3, dash="dot")))

# ---------------- top panel decorations ----------------
rect(643, 17, 1008, 99, fill="#FFFF00", width=2.5)
rect(741, 21, 868, 58, width=2)
label("制御棒", 699, 31, 23.5, "center")
label("CR06-31", 804.5, 39.5, 27, "center")
label("全挿入", 918, 31, 23.5, "center")
label("（※漏えい燃料範囲にある制御棒）", 825, 81, 23.5, "center")

rect(1136, 17, 1725, 92, fill="#FFFF00", width=2.5)
for x0, x1, name in [(1173, 1300, "CR06-35"), (1305.5, 1432, "CR10-31"), (1435, 1561, "CR06-27"),
                     (1566, 1694, "CR02-31")]:
    rect(x0, 49, x1, 88, width=2)
    label(name, (x0 + x1) / 2, 68.5, 27, "center")
label("漏えい燃料の出力抑制のため，周辺の制御棒を全挿入", 1430, 30, 23.5, "center")

arrow(978.6, 100, 1038, 156)
arrow(1201, 88, 1236, 210)
arrow(1363.5, 88, 1275.5, 166.5)
arrow(1472, 88, 1312.5, 188)
arrow(1622, 88, 1347.6, 222.7)

label("(996cps)", 1088, 146, 20, "center", "#0000FF")
label("(1,238cps)", 1273, 144, 20, "center", "#0000FF")
bx = [(1025.5, 204.7), (1047.8, 183.7), (1051, 164.6), (1063.8, 170.3), (1083, 158.8), (1092.5, 164.6)]
path = "M " + " L ".join(f"{P(x, y)[0]:.5f},{P(x, y)[1]:.5f}" for x, y in bx)
shapes.append(dict(type="path", xref="paper", yref="paper", path=path, line=dict(color="black", width=1.5)))

ellipse(421, 222, 42, 38)
ellipse(1082, 199, 39, 38)
ellipse(1273, 208, 70, 49)
line(438.5, 255.6, 891, 444)
line(1121, 208.6, 1541, 425.6)
line(1338, 229, 1747.5, 426.7)

label("←", 179, 149, 26)
label("高感度オフガスモニタ【キセノンXe-133】（cps）", 235, 149, 26)
label("通常の変動", 201, 264, 23.5, "center")
darrow(144, 234, 286)
darrow(589, 1436, 312)
label("漏えい燃料範囲の特定作業による変動", 1004, 337, 23, "center")
label("希ガスホールドアップ塔の保持効果により3日後に一時的に上昇【クリプトンKr-85の影響】", 1292, 406, 22, "center")
label("希ガスホールドアップ塔排ガスモニタ（cps）", 259, 434, 25.5)
label("→", 826, 434, 27, "center")

for (x0, x1), t, c in zip([(774, 1056), (1409, 1698), (1714, 2003)], kr_times, kr_conc):
    rect(x0, 476, x1, 536, fill="white", width=1.5)
    ts = pd.Timestamp(t)
    label(f"クリプトンKr-85 分析濃度<br>{str(c).replace('.', '．')}Bq/cm3 ({ts.month}/{ts.day} {ts:%H:%M})",
          x0 + 5, 505, 20.5)
    ann.append(dict(text="△", x=t, y=1 - fy(554) / H, xref="x", yref="paper", yanchor="bottom",
                    showarrow=False, borderpad=0, font=dict(family=FONT, size=15 * FS, color="black")))
line(2015, 503, 2052, 503, dash="dot", width=1.5, color="#666")
label("クリプトンKr-85 濃度は希ガスホールドアップ塔<br>出口の分析値", 2064, 513, 21)

# ---------------- middle panel decorations ----------------
label("定格電気出力1206MW", 292, 685, 24, "center")
label("←", 169, 737, 27)
label("電気出力(MW)", 216, 737, 27)
label("約720MW", 460, 926, 23, "center")
darrow(593, 1436, 839)
label("漏えい燃料範囲の特定作業による制御棒の挿入，引抜き操作に伴う出力変動", 1034, 802, 23, "center")
ellipse(573, 871, 26.5, 28.5)
ellipse(1337, 883.5, 26.5, 28.5)
dasharrow(599.5, 966, 580, 907)
dasharrow(1366.7, 966, 1349.5, 909)
label("漏えい燃料範囲の特定作業による制御棒挿入時の<br>出力低下を考慮し5%程度出力上昇(出力約780MW)", 608, 964, 22.5)
label("漏えい燃料範囲の特定作業における<br>制御棒操作終了（出力約720MW）", 1376, 969, 22.5)
label("蒸気式空気抽出器排ガスモニタ(A)", 222, 1117, 28)
label("→", 711, 1117, 27, "center")

# ---------------- bottom panel decorations ----------------
label("←", 161, 1470, 27)
label("モニタリングポスト(nGy/h)", 210, 1470, 27)
label("降雨による変動", 580.5, 1528, 24, "center")
darrow(484, 657, 1547)
label("降雨による変動", 842, 1518, 24, "center")
darrow(810, 849, 1538)
line(925, 1518, 952, 1518, dash="dot", width=1.5, color="#666")
label("大気中に含まれる天然の放射性物質が雨とともに<br>地上に降下することにより空間の線量率が変動", 955, 1531, 25)
label("モニタリングポストNO.4", 300, 1576, 20, "center")
label("モニタリングポストNO.7", 300, 1639, 20, "center")
label("降雨による変動", 1703, 1518, 24, "center")
darrow(1612, 1660, 1550)
darrow(1716, 1783, 1550)
label("降雨による変動", 1898, 1525, 24, "center")
darrow(1866, 1904, 1545)
label("降雨による変動", 2419, 1485, 24, "center")
darrow(2314, 2521, 1512)
label("←", 186, 1705, 27)
label("排気筒モニタ　(CPS)", 238, 1705, 27)
for x in (565, 730, 884):
    label("点検", x, 1783, 20, "center")
label("感雨(有り:1，無し:0)　→", 1076, 1766, 26)

# ---------------- event captions ----------------
ROW1, ROW2, CAP = 1866, 1895, 23
label("▲▲監視強化(4/12 22:15)", 249, ROW1, CAP)
label("▲漏えい燃料範囲の特定作業開始(4/14　17:44)", 568, ROW1, CAP)
label("事象発生(4/12 18:31)", 151, ROW2, CAP)
label("▲出力降下開始(4/13 18:00)", 410, ROW2, CAP)
label("▲漏えい燃料範囲の", 1434, ROW1, CAP)
label("特定作業終了(4/19　23:15)", 1469, ROW2, CAP)
label("▲出力上昇開始(4/22 10:00)", 1841, ROW1, CAP)
label("▲定格電気出力復帰(4/26 6:00)", 2473, ROW1, CAP)

fig.update_layout(
    width=W, height=H, autosize=False, margin=dict(l=0, r=0, t=0, b=0),
    paper_bgcolor="white", plot_bgcolor="rgba(0,0,0,0)", showlegend=False,
    font=dict(family=FONT, color="black"), annotations=ann, shapes=shapes,
)

fig.write_html("out.html", config={"displayModeBar": False},
               post_script="document.body.style.margin='0';document.body.style.overflow='hidden';")
